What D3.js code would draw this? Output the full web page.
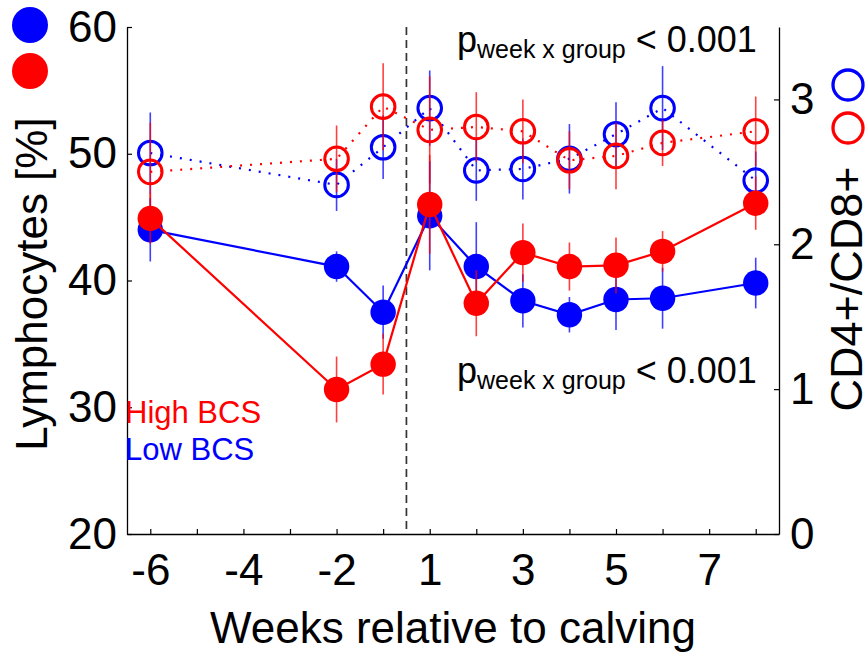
<!DOCTYPE html>
<html>
<head>
<meta charset="utf-8">
<script src="https://cdn.jsdelivr.net/npm/d3@7"></script>
<style>
  body { margin: 0; background: #fff; }
  svg { display: block; font-family: "Liberation Sans", Arial, sans-serif; }
</style>
</head>
<body>
<div id="vis"></div>
<script>
// weeks relative to calving (no week 0)
const WEEKS = [-6, -2, -1, 1, 2, 3, 4, 5, 6, 8];

// lymphocytes [%] (left axis), filled markers
const LYMPH_HIGH = [44.9, 31.4, 33.4, 46.0, 38.2, 42.2, 41.1, 41.2, 42.3, 46.1];
const LYMPH_HIGH_ERR = [2.0, 2.6, 2.4, 3.9, 2.6, 2.3, 1.9, 2.2, 1.6, 2.1];
const LYMPH_LOW = [44.0, 41.1, 37.5, 45.1, 41.1, 38.4, 37.3, 38.5, 38.6, 39.8];
const LYMPH_LOW_ERR = [2.5, 1.2, 2.1, 4.3, 3.5, 2.1, 1.4, 2.4, 2.4, 2.0];

// CD4+/CD8+ ratio (right axis), open markers
const RATIO_HIGH = [2.50, 2.59, 2.95, 2.79, 2.81, 2.78, 2.58, 2.61, 2.70, 2.78];
const RATIO_HIGH_ERR = [0.34, 0.23, 0.30, 0.37, 0.24, 0.22, 0.20, 0.23, 0.16, 0.24];
const RATIO_LOW = [2.63, 2.41, 2.67, 2.94, 2.51, 2.52, 2.59, 2.76, 2.94, 2.44];
const RATIO_LOW_ERR = [0.28, 0.18, 0.22, 0.26, 0.21, 0.21, 0.24, 0.22, 0.29, 0.20];

// axis ticks
const X_TICK_WEEKS = [-6, -5, -4, -3, -2, -1, 1, 2, 3, 4, 5, 6, 7, 8];
const X_LABEL_WEEKS = [-6, -4, -2, 1, 3, 5, 7];
const Y_LEFT_TICKS = [20, 30, 40, 50, 60];
const Y_RIGHT_TICKS = [0, 1, 2, 3];

const FRAME_WIDTH = 865;
const FRAME_HEIGHT = 652;
const MARGINS = {left: 127, right: 86, top: 27, bottom: 118};
const BLUE = "#0000ff";
const RED = "#ff0000";

// week 0 does not exist, so positive weeks move one step left
function pos(w) { return w < 0 ? w : w - 1; }

const X_SCALE = d3.scaleLinear()
                  .domain([-6.5, 7.5])
                  .range([MARGINS.left, FRAME_WIDTH - MARGINS.right]);
const YL_SCALE = d3.scaleLinear()
                   .domain([20, 60])
                   .range([FRAME_HEIGHT - MARGINS.bottom, MARGINS.top]);
const YR_SCALE = d3.scaleLinear()
                   .domain([0, 3.5])
                   .range([FRAME_HEIGHT - MARGINS.bottom, MARGINS.top]);

const svg = d3.select("#vis")
              .append("svg")
              .attr("width", FRAME_WIDTH)
              .attr("height", FRAME_HEIGHT);

const bottomY = FRAME_HEIGHT - MARGINS.bottom;
const rightX = FRAME_WIDTH - MARGINS.right;

// axes
const xAxis = svg.append("g")
  .attr("transform", "translate(0," + bottomY + ")")
  .call(d3.axisBottom(X_SCALE)
          .tickValues(X_TICK_WEEKS.map(pos))
          .tickSizeInner(-5).tickSizeOuter(0).tickPadding(20)
          .tickFormat((p) => {
            const w = p < 0 ? p : p + 1;
            return X_LABEL_WEEKS.includes(w) ? String(w) : "";
          }));

const yLeft = svg.append("g")
  .attr("transform", "translate(" + MARGINS.left + ",0)")
  .call(d3.axisLeft(YL_SCALE).tickValues(Y_LEFT_TICKS)
          .tickFormat(d3.format("d"))
          .tickSizeInner(-5).tickSizeOuter(0).tickPadding(10));

const yRight = svg.append("g")
  .attr("transform", "translate(" + rightX + ",0)")
  .call(d3.axisRight(YR_SCALE).tickValues(Y_RIGHT_TICKS)
          .tickFormat(d3.format("d"))
          .tickSizeInner(-5).tickSizeOuter(0).tickPadding(11));

[xAxis, yLeft, yRight].forEach((g) => {
  g.attr("font-size", "44px").attr("font-family", null);
  g.select(".domain").attr("stroke", "#000").attr("stroke-width", 1.3);
  g.selectAll(".tick line").attr("stroke", "#000").attr("stroke-width", 1.2);
  g.selectAll(".tick text").attr("fill", "#000");
});

// calving line
svg.append("line")
  .attr("x1", X_SCALE(-0.5)).attr("x2", X_SCALE(-0.5))
  .attr("y1", MARGINS.top).attr("y2", bottomY)
  .attr("stroke", "#333").attr("stroke-width", 1.7)
  .attr("stroke-dasharray", "8,5");

// one series: error bars, connecting line, markers
function drawSeries(vals, errs, yScale, color, filled) {
  const data = WEEKS.map((w, i) => ({w: w, v: vals[i], e: errs[i]}));
  svg.append("g").selectAll("line")
    .data(data).enter().append("line")
    .attr("x1", (d) => X_SCALE(pos(d.w))).attr("x2", (d) => X_SCALE(pos(d.w)))
    .attr("y1", (d) => yScale(d.v - d.e)).attr("y2", (d) => yScale(d.v + d.e))
    .attr("stroke", color).attr("stroke-width", 1.6).attr("stroke-opacity", 0.75);

  const line = d3.line()
    .x((d) => X_SCALE(pos(d.w)))
    .y((d) => yScale(d.v));
  svg.append("path")
    .datum(data)
    .attr("d", line)
    .attr("fill", "none")
    .attr("stroke", color)
    .attr("stroke-width", 2.2)
    .attr("stroke-dasharray", filled ? null : "2,8");

  svg.append("g").selectAll("circle")
    .data(data).enter().append("circle")
    .attr("cx", (d) => X_SCALE(pos(d.w)))
    .attr("cy", (d) => yScale(d.v))
    .attr("r", filled ? 12.7 : 11.8)
    .attr("fill", filled ? color : "none")
    .attr("stroke", filled ? "none" : color)
    .attr("stroke-width", 3);
}

drawSeries(RATIO_LOW, RATIO_LOW_ERR, YR_SCALE, BLUE, false);
drawSeries(RATIO_HIGH, RATIO_HIGH_ERR, YR_SCALE, RED, false);
drawSeries(LYMPH_LOW, LYMPH_LOW_ERR, YL_SCALE, BLUE, true);
drawSeries(LYMPH_HIGH, LYMPH_HIGH_ERR, YL_SCALE, RED, true);

// p value notes
function pNote(x, y) {
  const t = svg.append("text").attr("x", x).attr("y", y)
    .attr("font-size", "36px").attr("fill", "#000");
  t.append("tspan").text("p");
  t.append("tspan").attr("font-size", "25px").attr("dy", 6).text("week x group");
  t.append("tspan").attr("dy", -6).text(" < 0.001");
}
pNote(457, 52);
pNote(457, 383);

// group labels
svg.append("text").attr("x", 125).attr("y", 423)
  .attr("font-size", "31px").attr("fill", RED).text("High BCS");
svg.append("text").attr("x", 125).attr("y", 460)
  .attr("font-size", "31px").attr("fill", BLUE).text("Low BCS");

// axis titles
svg.append("text")
  .attr("transform", "translate(47,284) rotate(-90)")
  .attr("text-anchor", "middle").attr("font-size", "44px")
  .text("Lymphocytes [%]");
svg.append("text")
  .attr("transform", "translate(862,289) rotate(-90)")
  .attr("text-anchor", "middle").attr("font-size", "45px")
  .text("CD4+/CD8+");
svg.append("text")
  .attr("x", (MARGINS.left + rightX) / 2).attr("y", 643)
  .attr("text-anchor", "middle").attr("font-size", "44px")
  .text("Weeks relative to calving");

// marker keys for the two axes
svg.append("circle").attr("cx", 30).attr("cy", 25).attr("r", 18).attr("fill", BLUE);
svg.append("circle").attr("cx", 30).attr("cy", 71).attr("r", 18).attr("fill", RED);
svg.append("circle").attr("cx", 848).attr("cy", 85).attr("r", 15)
  .attr("fill", "none").attr("stroke", BLUE).attr("stroke-width", 3.3);
svg.append("circle").attr("cx", 848).attr("cy", 128).attr("r", 15)
  .attr("fill", "none").attr("stroke", RED).attr("stroke-width", 3.3);
</script>
</body>
</html>
